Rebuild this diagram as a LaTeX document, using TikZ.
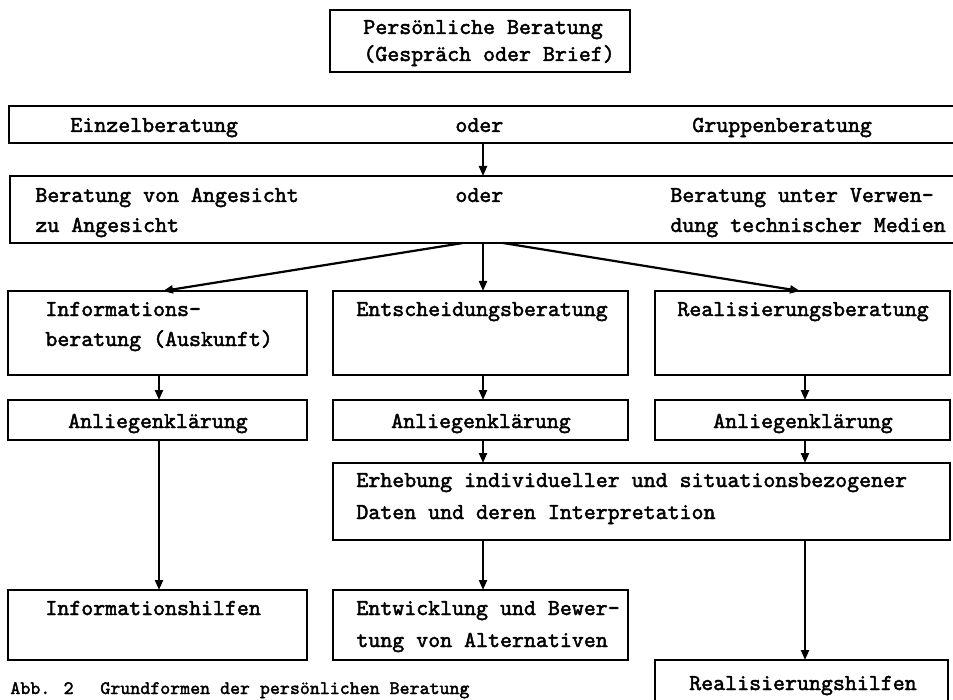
\documentclass[tikz,border=0pt]{standalone}
\usepackage{fontspec}
\setmainfont{Liberation Serif}
\newfontfamily\tw{lmmono10-regular.otf}[FakeBold=2]
\usetikzlibrary{arrows.meta,fit,calc}
\begin{document}
\begin{tikzpicture}[x=0.5pt,y=-0.5pt,
  box/.style={draw,line width=1.1pt,inner sep=0pt,outer sep=0pt},
  txt/.style={anchor=base west,inner sep=0pt,font=\tw\fontsize{11.4}{14}\selectfont},
  ctxt/.style={anchor=base,inner sep=0pt,font=\tw\fontsize{11.4}{14}\selectfont},
  arr/.style={line width=1.1pt,-{Triangle[length=5pt,width=4pt]}},
  captxt/.style={anchor=base west,inner sep=0pt,font=\tw\fontsize{9.5}{12}\selectfont}]
\useasboundingbox (0,0) rectangle (953,700);
\clip (0,0) rectangle (953,700);
\fill[white] (0,0) rectangle (953,700);
% columns
\coordinate (cL) at (159,0);
\coordinate (cM) at (483,0);
\coordinate (cR) at (805,0);
% boxes
\node[box,fit={(330,10) (630,72)}] (top) {};
\node[box,fit={(9,106) (958,143)}] (b2) {};
\node[box,fit={(10,176) (958,243)}] (b3) {};
\node[box,fit={(8,291) (307,375)}] (ia) {};
\node[box,fit={(333,291) (628,375)}] (ea) {};
\node[box,fit={(655,291) (950,375)}] (ra) {};
\node[box,fit={(8,400) (307,440)}] (al) {};
\node[box,fit={(333,400) (628,440)}] (am) {};
\node[box,fit={(655,400) (950,440)}] (ar) {};
\node[box,fit={(333,463) (950,540)}] (eh) {};
\node[box,fit={(8,590) (307,660)}] (ih) {};
\node[box,fit={(333,590) (628,660)}] (ew) {};
\node[box,fit={(655,660) (948,710)}] (rh) {};
% texts
\node[txt] (t1) at (363,34) {Persönliche Beratung};
\node[txt] (t2) at (363,61) {(Gespräch oder Brief)};
\node[txt] (t3) at (70,132) {Einzelberatung};
\node[txt] (t4) at (455,132) {oder};
\node[txt] (t5) at (692,132) {Gruppenberatung};
\node[txt] (t6) at (35,202) {Beratung von Angesicht};
\node[txt] (t7) at (35,232) {zu Angesicht};
\node[txt] (t8) at (455,202) {oder};
\node[txt] (t9) at (670,202) {Beratung unter Verwen-};
\node[txt] (t10) at (670,232) {dung technischer Medien};
\node[txt] (t11) at (45,316) {Informations-};
\node[txt] (t12) at (45,346) {beratung (Auskunft)};
\node[txt] (t13) at (356,316) {Entscheidungsberatung};
\node[txt] (t14) at (677,316) {Realisierungsberatung};
\node[ctxt] (t15) at (158,428) {Anliegenklärung};
\node[ctxt] (t16) at (481,428) {Anliegenklärung};
\node[ctxt] (t17) at (803,428) {Anliegenklärung};
\node[txt] (t18) at (356,487) {Erhebung individueller und situationsbezogener};
\node[txt] (t19) at (356,519) {Daten und deren Interpretation};
\node[txt] (t20) at (45,615) {Informationshilfen};
\node[txt] (t21) at (356,615) {Entwicklung und Bewer-};
\node[txt] (t22) at (356,647) {tung von Alternativen};
\node[ctxt] (t23) at (803,690) {Realisierungshilfen};
\node[captxt] (c1) at (10,694) {Abb. 2};
\node[captxt] (c2) at (100,694) {Grundformen der persönlichen Beratung};
% connectors
\coordinate (sL) at (463,243);
\coordinate (sR) at (503,243);
\draw[arr] (b2.south -| cM) -- (b3.north -| cM);
\draw[arr] (sL) -- (ia.north -| 163,0);
\draw[arr] (b3.south -| cM) -- (ea.north -| cM);
\draw[arr] (sR) -- (ra.north -| 800,0);
\draw[arr] (ia.south -| cL) -- (al.north -| cL);
\draw[arr] (ea.south -| cM) -- (am.north -| cM);
\draw[arr] (ra.south -| cR) -- (ar.north -| cR);
\draw[arr] (al.south -| cL) -- (ih.north -| cL);
\draw[arr] (am.south -| cM) -- (eh.north -| cM);
\draw[arr] (ar.south -| cR) -- (eh.north -| cR);
\draw[arr] (eh.south -| cM) -- (ew.north -| cM);
\draw[arr] (eh.south -| cR) -- (rh.north -| cR);
\end{tikzpicture}
\end{document}
